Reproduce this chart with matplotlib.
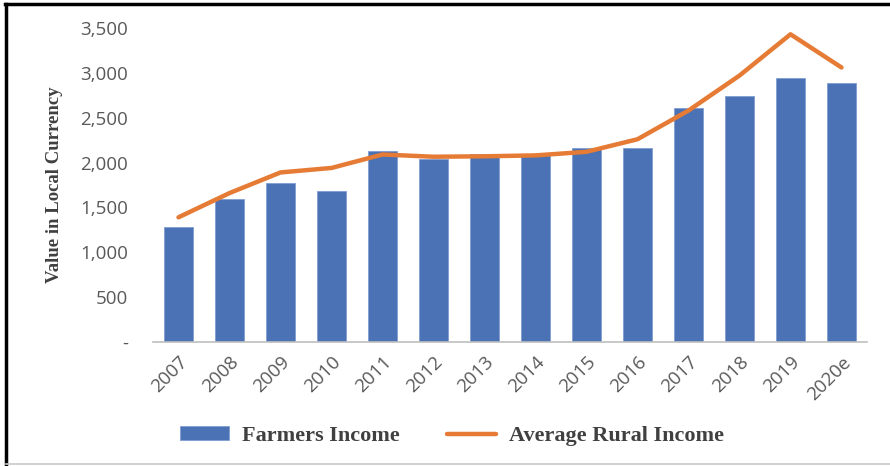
import matplotlib
matplotlib.use("Agg")
import matplotlib.pyplot as plt
from matplotlib.lines import Line2D
from matplotlib.ticker import FuncFormatter

years = ["2007", "2008", "2009", "2010", "2011", "2012", "2013", "2014",
         "2015", "2016", "2017", "2018", "2019", "2020e"]
farmers_income = [1280, 1590, 1770, 1680, 2130, 2040, 2100, 2085,
                  2160, 2160, 2610, 2740, 2940, 2885]
rural_income = [1390, 1660, 1890, 1940, 2090, 2065, 2070, 2080,
                2120, 2260, 2580, 2970, 3430, 3060]

W, H = 890, 466
fig = plt.figure(figsize=(W / 100, H / 100), dpi=100)
ax = fig.add_axes([153 / W, 1 - 342 / H, (867 - 153) / W, (342 - 28) / H])

x = range(len(years))
bars = ax.bar(x, farmers_income, width=0.57, color="#4a72b4", edgecolor="#7f9ed2",
              linewidth=0.6, label="Farmers Income", zorder=2)
line, = ax.plot(x, rural_income, color="#e57b34", lw=3.2, solid_capstyle="round",
                label="Average Rural Income", zorder=3)

ax.set_xlim(-0.5, len(years) - 0.5)
ax.set_ylim(0, 3500)
ax.set_yticks(range(0, 3501, 500))
ax.yaxis.set_major_formatter(FuncFormatter(lambda v, p: "-" if v == 0 else f"{int(v):,}"))
ax.set_xticks(list(x))
ax.set_xticklabels(years, rotation=45, ha="right", rotation_mode="anchor")

for lab in ax.get_yticklabels() + ax.get_xticklabels():
    lab.set_fontfamily(["Open Sans", "DejaVu Sans"])
    lab.set_fontsize(13.5)
    lab.set_color("#595959")
ax.tick_params(axis="both", length=0)
ax.tick_params(axis="y", pad=18)
ax.tick_params(axis="x", pad=8)

for s in ("top", "right", "left"):
    ax.spines[s].set_visible(False)
ax.spines["bottom"].set_color("#bfbfbf")
ax.spines["bottom"].set_linewidth(1.2)

fig.text(55 / W, 1 - 185 / H, "Value in Local Currency", rotation=90,
         ha="center", va="center", family="Liberation Serif", weight="bold",
         size=13.5, color="#404040")

leg = fig.legend([bars, line], ["Farmers Income", "Average Rural Income"],
                 loc="center", bbox_to_anchor=(452 / W, 1 - 436 / H), ncol=2,
                 frameon=False, handlelength=2.2, handleheight=0.55,
                 columnspacing=2.1, handletextpad=0.6,
                 prop={"family": "Liberation Serif", "weight": "bold", "size": 16})
for t in leg.get_texts():
    t.set_color("#404040")

# frame around the picture
fig.add_artist(Line2D([5 / W, 1], [1 - 4 / H] * 2, color="black", lw=2.5))
fig.add_artist(Line2D([6 / W] * 2, [1 - 4 / H, 0], color="black", lw=2.5))
fig.add_artist(Line2D([6 / W, 1], [1 - 464 / H] * 2, color="#c8c8c8", lw=1.2))

fig.savefig("out.png", dpi=100)
